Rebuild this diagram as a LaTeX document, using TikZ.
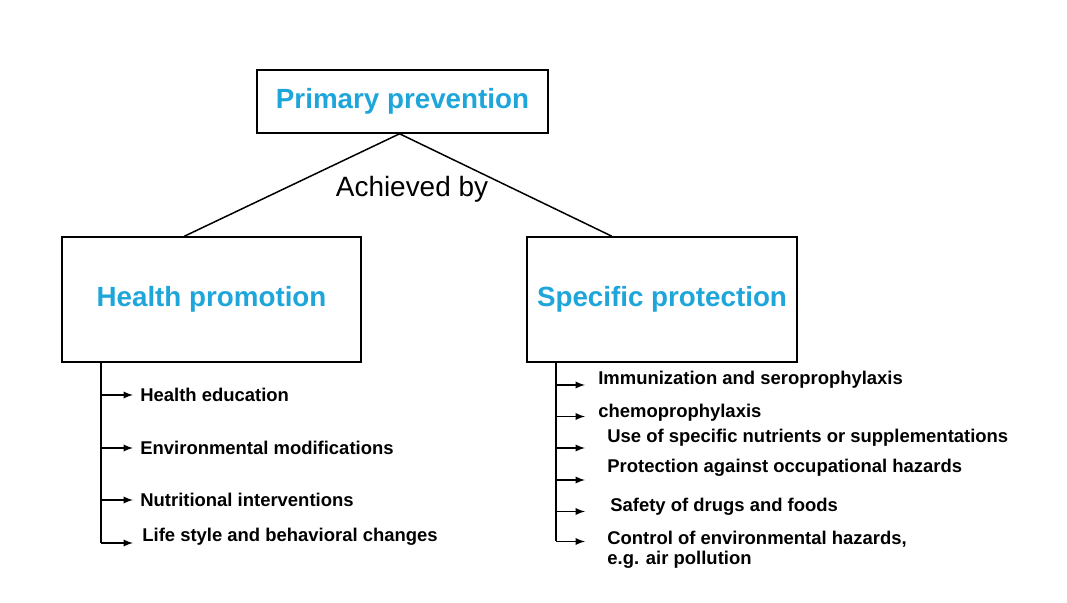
\documentclass[tikz,border=0pt]{standalone}
\usepackage{fontspec}
\setmainfont{Liberation Sans}
\usetikzlibrary{calc}
\definecolor{headblue}{RGB}{30,166,218}
\tikzset{
  headbox/.style={draw, line width=0.9pt, text=headblue, font=\bfseries\fontsize{15.8}{18}\selectfont},
  item/.style={anchor=west, inner sep=0pt, align=left, font=\bfseries\fontsize{10.5}{11.6}\selectfont},
  branch/.style={line width=0.85pt},
  tick/.style={line width=0.85pt, -latex},
}

\begin{document}
\begin{tikzpicture}
\useasboundingbox (0,0) rectangle (21.34,12.04);

% boxes
\node[headbox, minimum width=5.82cm, minimum height=1.26cm] (prim) at (8.05,10.01) {\raisebox{-2pt}{Primary prevention}};
\node[headbox, minimum width=5.98cm, minimum height=2.5cm] (health) at (4.23,6.05) {\raisebox{-2pt}{Health promotion}};
\node[headbox, minimum width=5.4cm, minimum height=2.5cm] (spec) at (13.24,6.05) {\raisebox{-2pt}{Specific protection}};

\draw[branch] ($(prim.south west)!0.49!(prim.south east)$) -- ($(health.north west)!0.41!(health.north east)$);
\draw[branch] ($(prim.south west)!0.49!(prim.south east)$) -- ($(spec.north west)!0.315!(spec.north east)$);
\node[font=\fontsize{15.9}{18}\selectfont] (by) at (8.24,8.26) {Achieved by};

% health promotion list
\coordinate (hp) at ($(health.south west)+(0.8,0)$);
\node[item] (h1) at (2.8,4.14) {Health education};
\node[item] (h2) at (2.8,3.08) {Environmental modifications};
\node[item] (h3) at (2.8,2.04) {Nutritional interventions};
\node[item] (h4) at (2.84,1.3) {Life style and behavioral changes};
\coordinate (ha1) at (2.66,4.14);
\coordinate (ha2) at (2.66,3.08);
\coordinate (ha3) at (2.66,2.04);
\coordinate (ha4) at (2.66,1.18);
\draw[branch] (hp) -- (hp |- ha4);
\foreach \i in {1,...,4}
  \draw[tick] (hp |- ha\i) -- (ha\i);

% specific protection list
\coordinate (sp) at ($(spec.south west)+(0.6,0)$);
\node[item] (s1) at (11.96,4.44) {Immunization and seroprophylaxis};
\node[item] (s2) at (11.96,3.78) {chemoprophylaxis};
\node[item] (s3) at (12.14,3.28) {Use of specific nutrients or supplementations};
\node[item] (s4) at (12.14,2.68) {Protection against occupational hazards};
\node[item] (s5) at (12.2,1.9) {Safety of drugs and foods};
\node[item] (s6) at (12.14,1.04) {Control of environmental hazards,\\e.g. air pollution};
\coordinate (sa1) at (11.7,4.34);
\coordinate (sa2) at (11.7,3.71);
\coordinate (sa3) at (11.7,3.08);
\coordinate (sa4) at (11.7,2.44);
\coordinate (sa5) at (11.7,1.81);
\coordinate (sa6) at (11.7,1.21);
\draw[branch] (sp) -- (sp |- sa6);
\foreach \i in {1,...,6}
  \draw[tick] (sp |- sa\i) -- (sa\i);
\end{tikzpicture}
\end{document}
